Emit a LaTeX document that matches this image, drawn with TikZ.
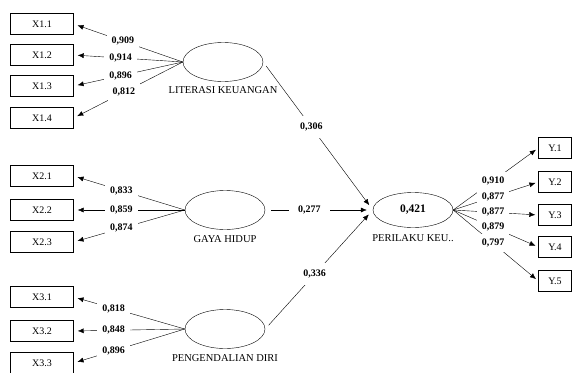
\documentclass[tikz,border=0pt]{standalone}
\usepackage{fontspec}
\setmainfont{Liberation Serif}
\usetikzlibrary{shapes,arrows,arrows.meta,positioning}

\begin{document}
\begin{tikzpicture}[x=1pt, y=-1pt, >={Latex[length=6pt, width=5pt]}, font=\fontsize{10}{11}\selectfont,
  ind/.style={rectangle, draw, minimum width=63pt, minimum height=21pt, inner sep=0pt},
  lat/.style={ellipse, draw, minimum width=80pt, minimum height=39pt},
  val/.style={fill=white, font=\fontsize{10}{11}\selectfont\bfseries, inner sep=5pt},
  latname/.style={font=\fontsize{10.5}{11}\selectfont}]
    \useasboundingbox (0,0) rectangle (572,372);
    \clip (0,0) rectangle (572,372);

    % latent variables
    \node[lat] (lk) at (223,62) {};
    \node[lat] (gh) at (225,210) {};
    \node[lat] (pd) at (225,329) {};
    \node[lat, minimum height=35pt] (pkeu) at (413,210) {\fontsize{11.5}{12}\selectfont\bfseries 0,421};
    \node[latname] (lk-name) [below=1pt of lk] {LITERASI KEUANGAN};
    \node[latname] (gh-name) [below=2pt of gh] {GAYA HIDUP};
    \node[latname] (pd-name) [below=2pt of pd] {PENGENDALIAN DIRI};
    \node[latname] (pkeu-name) [below=3pt of pkeu] {PERILAKU KEU..};

    % indicators
    \node[ind] (x11) at (42,24) {X1.1};
    \node[ind] (x12) at (42,55) {X1.2};
    \node[ind] (x13) at (42,86) {X1.3};
    \node[ind] (x14) at (42,118) {X1.4};
    \node[ind] (x21) at (42,176) {X2.1};
    \node[ind] (x22) at (42,210) {X2.2};
    \node[ind] (x23) at (42,242) {X2.3};
    \node[ind] (x31) at (42,297) {X3.1};
    \node[ind] (x32) at (42,331) {X3.2};
    \node[ind] (x33) at (42,363) {X3.3};
    \node[ind, minimum width=33pt] (y1) at (555,148) {Y.1};
    \node[ind, minimum width=33pt] (y2) at (555,182) {Y.2};
    \node[ind, minimum width=33pt] (y3) at (555,215) {Y.3};
    \node[ind, minimum width=33pt] (y4) at (555,247) {Y.4};
    \node[ind, minimum width=33pt] (y5) at (555,281) {Y.5};

    % outer loadings
    \draw[->, shorten >=4pt] (lk.west) -- node[val, pos=.55] {0,909} (x11.east);
    \draw[->, shorten >=4pt] (lk.west) -- node[val, pos=.57] {0,914} (x12.east);
    \draw[->, shorten >=4pt] (lk.west) -- node[val, pos=.57] {0,896} (x13.east);
    \draw[->, shorten >=4pt] (lk.west) -- node[val, pos=.54] {0,812} (x14.east);
    \draw[->, shorten >=4pt] (gh.west) -- node[val, pos=.57] {0,833} (x21.east);
    \draw[->, shorten >=4pt] (gh.west) -- node[val, pos=.57] {0,859} (x22.east);
    \draw[->, shorten >=4pt] (gh.west) -- node[val, pos=.57] {0,874} (x23.east);
    \draw[->, shorten >=4pt] (pd.west) -- node[val, pos=.64] {0,818} (x31.east);
    \draw[->, shorten >=4pt] (pd.west) -- node[val, pos=.64] {0,848} (x32.east);
    \draw[->, shorten >=4pt] (pd.west) -- node[val, pos=.64] {0,896} (x33.east);
    \draw[->, shorten >=3pt] (pkeu.east) -- node[val, pos=.47] {0,910} (y1.west);
    \draw[->, shorten >=3pt] (pkeu.east) -- node[val, pos=.47] {0,877} (y2.west);
    \draw[->, shorten >=3pt] (pkeu.east) -- node[val, pos=.47] {0,877} (y3.west);
    \draw[->, shorten >=3pt] (pkeu.east) -- node[val, pos=.47] {0,879} (y4.west);
    \draw[->, shorten >=3pt] (pkeu.east) -- node[val, pos=.47] {0,797} (y5.west);

    % path coefficients
    \draw[->, shorten <=5pt, shorten >=6pt] (lk.east) -- node[val, inner sep=7pt, pos=.44] {0,306} (pkeu.west);
    \draw[->, shorten <=6pt, shorten >=6pt] (gh.east) -- node[val, inner xsep=9pt, pos=.41] {0,277} (pkeu.west);
    \draw[->, shorten <=5pt, shorten >=6pt] (pd.east) -- node[val, inner sep=7pt, pos=.46] {0,336} (pkeu.west);
\end{tikzpicture}
\end{document}
